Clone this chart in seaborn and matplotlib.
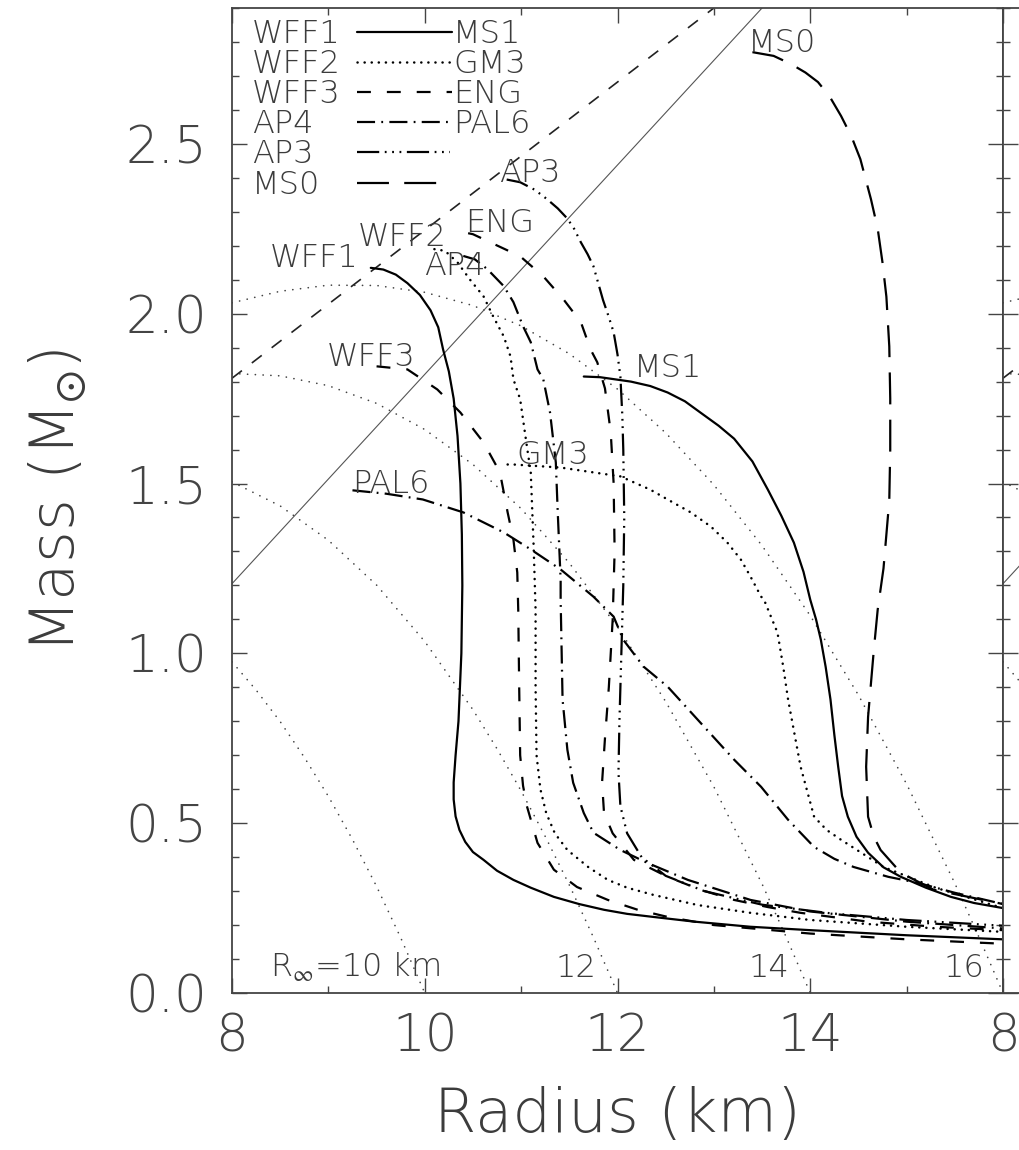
import matplotlib
matplotlib.use("Agg")
import matplotlib.pyplot as plt
import seaborn as sns
from matplotlib import font_manager as fm
from matplotlib.ticker import MultipleLocator, FixedLocator, FixedFormatter

# ---------------- data ----------------
wff1_r = [9.44, 9.57, 9.70, 9.82, 9.95, 10.06, 10.14, 10.19, 10.25, 10.30, 10.34, 10.37, 10.385, 10.39,
          10.38, 10.35, 10.32, 10.30, 10.30, 10.32, 10.36, 10.42, 10.50, 10.61, 10.75, 10.92, 11.10,
          11.34, 11.60, 11.86, 12.10, 12.37, 12.80, 13.38, 14.0, 15.0, 16.0]
wff1_m = [2.135, 2.13, 2.115, 2.09, 2.055, 2.01, 1.96, 1.895, 1.83, 1.75, 1.64, 1.50, 1.35, 1.20,
          1.00, 0.80, 0.70, 0.62, 0.57, 0.52, 0.48, 0.445, 0.415, 0.392, 0.36, 0.333, 0.31,
          0.283, 0.262, 0.245, 0.233, 0.224, 0.21, 0.195, 0.185, 0.17, 0.158]

wff2_r = [10.10, 10.21, 10.34, 10.47, 10.61, 10.71, 10.82, 10.89, 10.92, 10.99, 11.06, 11.10, 11.13,
          11.15, 11.15, 11.16, 11.20, 11.26, 11.35, 11.48, 11.70, 11.90, 12.10, 12.37, 12.83, 13.38,
          14.0, 15.0, 16.0]
wff2_m = [2.19, 2.185, 2.151, 2.10, 2.051, 1.992, 1.933, 1.874, 1.807, 1.748, 1.609, 1.533, 1.314,
          1.129, 0.90, 0.70, 0.60, 0.53, 0.47, 0.421, 0.37, 0.333, 0.31, 0.289, 0.259, 0.236,
          0.215, 0.195, 0.18]

wff3_r = [9.50, 9.82, 10.13, 10.37, 10.61, 10.78, 10.86, 10.92, 10.96, 10.97, 10.98, 10.99, 11.02,
          11.06, 11.17, 11.34, 11.58, 11.90, 12.21, 12.52, 13.0, 14.0, 15.0, 16.0]
wff3_m = [1.845, 1.836, 1.777, 1.709, 1.621, 1.533, 1.415, 1.335, 1.238, 1.129, 0.90, 0.70, 0.61,
          0.55, 0.442, 0.363, 0.312, 0.274, 0.245, 0.224, 0.20, 0.175, 0.158, 0.145]

ap4_r = [10.40, 10.52, 10.65, 10.82, 10.92, 11.02, 11.10, 11.17, 11.23, 11.30, 11.36, 11.38, 11.41,
         11.41, 11.43, 11.48, 11.54, 11.65, 11.75, 12.03, 12.31, 12.73, 13.38, 14.0, 15.0, 16.0]
ap4_m = [2.17, 2.16, 2.131, 2.081, 2.034, 1.963, 1.916, 1.836, 1.807, 1.709, 1.562, 1.415, 1.217,
         1.158, 0.864, 0.716, 0.619, 0.530, 0.472, 0.421, 0.383, 0.333, 0.274, 0.24, 0.21, 0.19]

ap3_r = [10.85, 10.99, 11.14, 11.27, 11.38, 11.48, 11.55, 11.62, 11.69, 11.75, 11.80, 11.85, 11.91,
         11.96, 12.00, 12.03, 12.05, 12.06, 12.07, 12.06, 12.04, 12.02, 12.01, 12.03, 12.10, 12.25,
         12.50, 12.90, 13.50, 14.2, 15.0, 16.0]
ap3_m = [2.395, 2.387, 2.365, 2.337, 2.31, 2.28, 2.25, 2.21, 2.175, 2.14, 2.09, 2.04, 1.99,
         1.945, 1.88, 1.815, 1.70, 1.6, 1.4, 1.2, 1.0, 0.8, 0.65, 0.55, 0.47, 0.40,
         0.345, 0.30, 0.26, 0.235, 0.215, 0.198]

eng_r = [10.45, 10.50, 10.99, 11.23, 11.44, 11.62, 11.72, 11.79, 11.87, 11.93, 11.96, 11.97, 11.95,
         11.91, 11.87, 11.84, 11.86, 11.95, 12.17, 12.52, 12.86, 13.21, 13.56, 13.90, 14.6, 15.3, 16.0]
eng_m = [2.237, 2.234, 2.169, 2.11, 2.042, 1.975, 1.895, 1.857, 1.78, 1.65, 1.5, 1.3, 1.1,
         0.9, 0.75, 0.62, 0.53, 0.47, 0.392, 0.342, 0.304, 0.274, 0.253, 0.236, 0.21, 0.195, 0.185]

pal6_r = [9.25, 9.60, 9.98, 10.40, 10.82, 11.10, 11.41, 11.75, 11.96, 12.06, 12.27, 12.52, 12.86,
          13.21, 13.49, 13.77, 14.04, 14.25, 14.45, 14.81, 15.12, 15.5, 16.0]
pal6_m = [1.48, 1.47, 1.453, 1.415, 1.356, 1.306, 1.247, 1.167, 1.108, 1.04, 0.961, 0.902, 0.796,
          0.687, 0.607, 0.51, 0.43, 0.395, 0.371, 0.342, 0.324, 0.295, 0.262]

gm3_r = [10.86, 10.92, 11.41, 12.03, 12.34, 12.52, 12.76, 12.97, 13.14, 13.28, 13.38, 13.49, 13.52,
         13.66, 13.72, 13.77, 13.90, 14.04, 14.17, 14.32, 14.76, 15.3, 16.0]
gm3_m = [1.556, 1.556, 1.547, 1.521, 1.482, 1.453, 1.415, 1.373, 1.326, 1.276, 1.226, 1.167, 1.158,
         1.061, 0.96, 0.864, 0.666, 0.519, 0.48, 0.451, 0.371, 0.31, 0.25]

ms1_r = [11.65, 11.82, 12.14, 12.34, 12.52, 12.70, 12.86, 13.05, 13.21, 13.40, 13.56, 13.70, 13.83,
         13.93, 14.0, 14.06, 14.11, 14.16, 14.21, 14.25, 14.29, 14.33, 14.39, 14.48, 14.60, 14.76,
         14.94, 15.20, 15.46, 15.70, 16.0]
ms1_m = [1.815, 1.813, 1.80, 1.787, 1.768, 1.742, 1.709, 1.67, 1.632, 1.565, 1.482, 1.405, 1.326,
         1.24, 1.158, 1.10, 1.04, 0.96, 0.864, 0.76, 0.666, 0.58, 0.519, 0.46, 0.413, 0.37,
         0.342, 0.31, 0.283, 0.265, 0.25]

ms0_r = [13.40, 13.62, 13.80, 13.95, 14.08, 14.20, 14.32, 14.43, 14.52, 14.63, 14.70, 14.75, 14.79,
         14.82, 14.83, 14.83, 14.82, 14.76, 14.70, 14.66, 14.60, 14.58, 14.60, 14.66, 14.73, 14.94,
         15.28, 16.0]
ms0_m = [2.77, 2.759, 2.735, 2.71, 2.682, 2.64, 2.582, 2.52, 2.455, 2.337, 2.25, 2.15, 2.05,
         1.904, 1.75, 1.60, 1.45, 1.25, 1.129, 1.011, 0.813, 0.666, 0.519, 0.46, 0.421, 0.354,
         0.304, 0.262]

# straight reference lines
causal_r = [8.0, 13.0]
causal_m = [1.81, 2.90]
thin_r = [8.0, 13.5]
thin_m = [1.205, 2.90]

# constant R_infinity contours (10, 12, 14, 16 km)
rinf10_r = [8.0, 8.25, 8.5, 8.75, 9.0, 9.25, 9.5, 9.75, 10.0]
rinf10_m = [0.975, 0.892, 0.799, 0.694, 0.579, 0.452, 0.314, 0.163, 0.0]
rinf12_r = [8.0, 8.5, 9.0, 9.5, 10.0, 10.5, 10.75, 11.0, 11.25, 11.5, 11.75, 12.0]
rinf12_m = [1.505, 1.434, 1.333, 1.201, 1.035, 0.834, 0.719, 0.595, 0.461, 0.318, 0.164, 0.0]
rinf14_r = [8.0, 8.5, 9.0, 9.5, 10.0, 10.5, 11.0, 11.5, 12.0, 12.5, 13.0, 13.5, 13.75, 14.0]
rinf14_m = [1.824, 1.817, 1.788, 1.736, 1.659, 1.556, 1.426, 1.266, 1.078, 0.858, 0.607, 0.321, 0.165, 0.0]
rinf16_r = [8.0, 8.5, 9.0, 9.5, 10.0, 10.5, 11.0, 11.5, 12.0, 12.5, 13.0, 13.5, 14.0, 14.5, 15.0,
            15.5, 15.75, 16.0]
rinf16_m = [2.032, 2.066, 2.084, 2.083, 2.063, 2.024, 1.964, 1.882, 1.778, 1.649, 1.496, 1.317, 1.111,
            0.877, 0.615, 0.323, 0.165, 0.0]

xtick_vals = [8, 10, 12, 14, 16]
xtick_labels = ["8", "10", "12", "14", ""]
ytick_vals = [0.0, 0.5, 1.0, 1.5, 2.0, 2.5]
ytick_labels = ["0.0", "0.5", "1.0", "1.5", "2.0", "2.5"]

# ---------------- style ----------------
sns.set_theme(style="white")


def pick_font():
    prefs = ["DejaVu Sans", "Open Sans", "Lato", "Noto Sans", "Roboto"]
    for fam in prefs:
        for f in fm.fontManager.ttflist:
            try:
                w = int(f.weight)
            except (TypeError, ValueError):
                continue
            if f.name == fam and f.style == "normal" and w <= 300 and w >= 200:
                return fam, w
    return "DejaVu Sans", 400


FONT, FW = pick_font()
INK = "#3c3c3c"
plt.rcParams.update({
    "font.family": [FONT, "DejaVu Sans"],
    "font.weight": FW,
    "mathtext.fontset": "dejavusans",
    "lines.scale_dashes": False,
    "axes.linewidth": 1.3,
    "axes.edgecolor": "#444444",
    "text.color": INK,
    "xtick.color": "#444444",
    "ytick.color": "#444444",
    "axes.labelcolor": INK,
    "axes.labelweight": FW,
    "axes.facecolor": "white",
    "figure.facecolor": "white",
})

W, H, DPI = 1019, 1150, 100
fig = plt.figure(figsize=(W / DPI, H / DPI), dpi=DPI)
PX_L, PX_R, PX_B, PX_T = 232, 1003, 993, 8
pos = [PX_L / W, 1 - PX_B / H, (PX_R - PX_L) / W, (PX_B - PX_T) / H]
ax = fig.add_axes(pos)
ax2 = fig.add_axes([PX_R / W, pos[1], pos[2], pos[3]])  # sliver of the neighbouring panel

K = "black"
SOLID = dict(color=K, lw=1.6, linestyle="-")
DOT = dict(color=K, lw=1.8, linestyle=(0, (0.1, 5.0)), dash_capstyle="round")
DASH = dict(color=K, lw=1.6, linestyle=(0, (10, 11.5)))
DASHDOT = dict(color=K, lw=1.6, linestyle=(0, (13, 4.5, 1.3, 4.5)))
DASH3DOT = dict(color=K, lw=1.6, linestyle=(0, (16, 4, 1.3, 4, 1.3, 4, 1.3, 4)))
LONGDASH = dict(color=K, lw=1.6, linestyle=(0, (23, 11)))
RINF = dict(color="#444444", lw=1.2, linestyle=(0, (0.1, 5.5)), dash_capstyle="round")
CAUSAL = dict(color="#222222", lw=1.2, linestyle=(0, (9, 9)))
THIN = dict(color="#555555", lw=0.8, linestyle="-")


def draw(a, r, m, style):
    sns.lineplot(x=r, y=m, sort=False, estimator=None, ax=a, legend=False, **style)


for a in (ax, ax2):
    for r, m in [(rinf10_r, rinf10_m), (rinf12_r, rinf12_m), (rinf14_r, rinf14_m), (rinf16_r, rinf16_m)]:
        draw(a, r, m, RINF)
    draw(a, causal_r, causal_m, CAUSAL)
    draw(a, thin_r, thin_m, THIN)

draw(ax, wff1_r, wff1_m, SOLID)
draw(ax, ms1_r, ms1_m, SOLID)
draw(ax, wff2_r, wff2_m, DOT)
draw(ax, gm3_r, gm3_m, DOT)
draw(ax, wff3_r, wff3_m, DASH)
draw(ax, eng_r, eng_m, DASH)
draw(ax, ap4_r, ap4_m, DASHDOT)
draw(ax, pal6_r, pal6_m, DASHDOT)
draw(ax, ap3_r, ap3_m, DASH3DOT)
draw(ax, ms0_r, ms0_m, LONGDASH)

for a in (ax, ax2):
    a.set_xlim(8, 16)
    a.set_ylim(0, 2.9)
    a.set_xlabel("")
    a.set_ylabel("")
    for s in a.spines.values():
        s.set_visible(True)
        s.set_linewidth(1.3)
        s.set_color("#444444")
    a.xaxis.set_major_locator(FixedLocator(xtick_vals))
    a.xaxis.set_minor_locator(MultipleLocator(1))
    a.yaxis.set_major_locator(FixedLocator(ytick_vals))
    a.yaxis.set_minor_locator(MultipleLocator(0.1))
    a.tick_params(which="both", direction="in", top=True, bottom=True, left=True, right=(a is ax),
                  width=1.0, labelsize=37, colors="#444444")
    a.tick_params(which="major", length=10.5)
    a.tick_params(which="minor", length=5)
    a.tick_params(axis="x", pad=14)
    a.tick_params(axis="y", pad=18)

ax.xaxis.set_major_formatter(FixedFormatter(xtick_labels))
ax.yaxis.set_major_formatter(FixedFormatter(ytick_labels))
ax2.xaxis.set_major_formatter(FixedFormatter(["8", "", "", "", ""]))
ax2.tick_params(labelleft=False)
for lab_ in ax.get_xticklabels() + ax.get_yticklabels() + ax2.get_xticklabels():
    lab_.set_fontweight(FW)
    lab_.set_color("#444444")

ax.set_xlabel("Radius (km)", fontsize=44, labelpad=17, color=INK, fontweight=FW)
ax.set_ylabel(r"Mass (M$_{\odot}$)", fontsize=44, labelpad=26, color=INK, fontweight=FW)

# ---------------- curve labels (data coordinates: left, baseline) ----------------
FS = 23


def lab(txt, r, m):
    ax.text(r, m, txt, fontsize=FS, ha="left", va="baseline", color=INK, fontweight=FW)


lab("WFF1", 8.395, 2.137)
lab("WFF2", 9.31, 2.199)
lab("WFF3", 8.98, 1.845)
lab("AP4", 9.99, 2.115)
lab("AP3", 10.77, 2.387)
lab("ENG", 10.42, 2.24)
lab("MS0", 13.35, 2.77)
lab("MS1", 12.17, 1.815)
lab("GM3", 10.95, 1.556)
lab("PAL6", 9.25, 1.473)
lab(r"R$_{\infty}$=10 km", 8.395, 0.047)
lab("12", 11.36, 0.047)
lab("14", 13.36, 0.047)
lab("16", 15.38, 0.047)

# ---------------- manual key (upper left, axes-fraction layout) ----------------


def fx(px):
    return (px - PX_L) / (PX_R - PX_L)


def fy(py):
    return (PX_B - py) / (PX_B - PX_T)


key_left = ["WFF1", "WFF2", "WFF3", "AP4", "AP3", "MS0"]
key_right = ["MS1", "GM3", "ENG", "PAL6", "", ""]
key_styles = [SOLID, DOT, DASH, DASHDOT, DASH3DOT, LONGDASH]
key_ends = [452, 452, 452, 452, 450, 440]
baselines = [43, 73, 103, 133, 163, 194]
for tl, tr, st, xe, yb in zip(key_left, key_right, key_styles, key_ends, baselines):
    ax.text(fx(252), fy(yb), tl, transform=ax.transAxes, fontsize=FS, va="baseline", ha="left",
            color=INK, fontweight=FW)
    if tr:
        ax.text(fx(453), fy(yb), tr, transform=ax.transAxes, fontsize=FS, va="baseline", ha="left",
                color=INK, fontweight=FW)
    ax.plot([fx(357), fx(xe)], [fy(yb - 11), fy(yb - 11)], transform=ax.transAxes, **st)

fig.savefig("out.png", dpi=DPI)
